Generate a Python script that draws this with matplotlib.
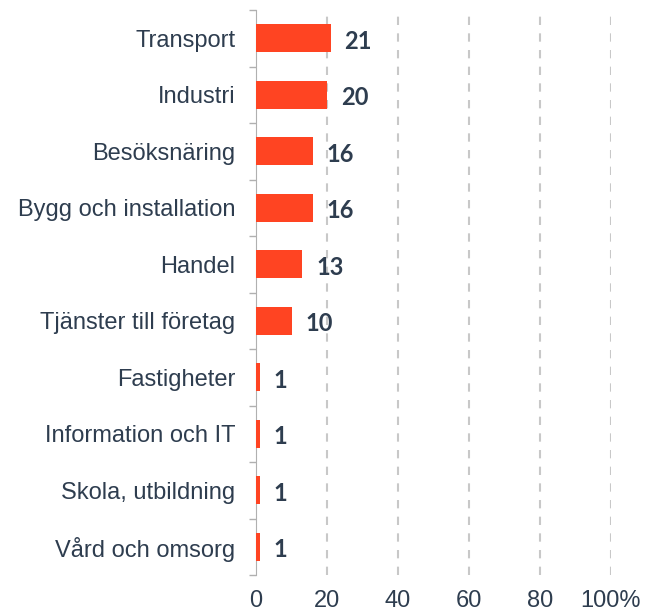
import matplotlib.pyplot as plt
import numpy as np

categories = ["Transport", "Industri", "Besöksnäring", "Bygg och installation", "Handel",
              "Tjänster till företag", "Fastigheter", "Information och IT",
              "Skola, utbildning", "Vård och omsorg"]
values = [21, 20, 16, 16, 13, 10, 1, 1, 1, 1]
xticks = [0, 20, 40, 60, 80, 100]
xtick_labels = ["0", "20", "40", "60", "80", "100%"]

text_color = "#2e3d4f"
bar_color = "#ff4422"

fig = plt.figure(figsize=(6.57, 6.16), dpi=100)
ax = fig.add_axes([256 / 657, 1 - 575 / 616, (611 - 256) / 657, (575 - 10) / 616])

y = np.arange(len(categories))
ax.barh(y, values, height=0.5, color=bar_color, zorder=3)

for yi, v in zip(y, values):
    ax.annotate(str(v), (v, yi), xytext=(10, -2), textcoords="offset points",
                ha="left", va="center", fontsize=17, fontweight="bold",
                family="Lato", color=text_color, zorder=4)

ax.set_xlim(0, 100)
ax.set_ylim(len(categories) - 0.5, -0.5)

# category labels without tick marks; boundary ticks as minor
ax.set_yticks(y)
ax.set_yticklabels(categories, fontsize=17, family="Liberation Sans", color=text_color)
ax.tick_params(axis="y", which="major", length=0, pad=15)
ax.set_yticks(np.arange(-0.5, len(categories), 1), minor=True)
ax.tick_params(axis="y", which="minor", length=5, color="#b0b0b0", width=1)

ax.set_xticks(xticks)
ax.set_xticklabels(xtick_labels, fontsize=17, family="Liberation Sans", color=text_color)
ax.tick_params(axis="x", length=0, pad=11)

ax.grid(axis="x", color="#c8c8c8", linestyle=(0, (4, 4)), linewidth=1.5, zorder=0)
ax.xaxis.get_gridlines()[0].set_visible(False)

for s in ["top", "right", "bottom"]:
    ax.spines[s].set_visible(False)
ax.spines["left"].set_color("#b0b0b0")

fig.savefig("out.png", dpi=100)
